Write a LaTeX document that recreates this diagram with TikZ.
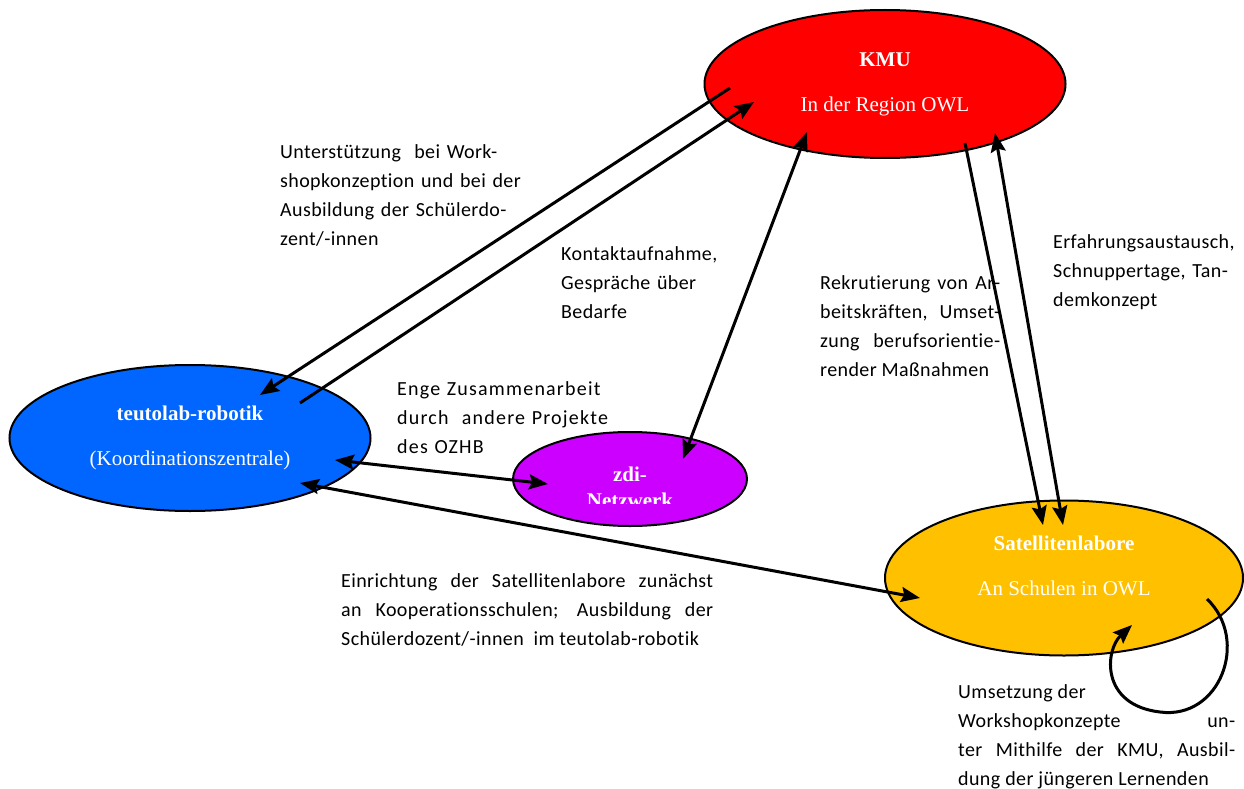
\documentclass[tikz,border=0pt]{standalone}
\usepackage{fontspec}
\setmainfont{Liberation Serif}
\newfontfamily\notefont[LetterSpace=2, Ligatures=NoCommon]{Carlito}
\usepackage{tikz}
\usetikzlibrary{shapes.geometric, arrows.meta, positioning, calc}
\definecolor{kmured}{RGB}{255, 0, 0}
\definecolor{teutoblue}{RGB}{0, 102, 255}
\definecolor{zdipurple}{RGB}{204, 0, 255}
\definecolor{labyellow}{RGB}{255, 192, 0}

\begin{document}
\begin{tikzpicture}[
    x=1pt, y=-1pt,
    blob/.style={ellipse, draw=black, line width=2pt, inner sep=0pt, text=white, align=center, font=\fontsize{21}{45}\selectfont},
    note/.style={anchor=base west, inner sep=0pt, font=\notefont\fontsize{20}{29}\selectfont},
    arrow/.style={-{Stealth[length=19pt, width=15pt, inset=3pt]}, line width=3pt},
    both/.style={arrow, {Stealth[length=19pt, width=15pt, inset=3pt]}-{Stealth[length=19pt, width=15pt, inset=3pt]}}
]
\useasboundingbox (0,0) rectangle (1244,789);

% Ellipses
\node[blob, fill=kmured, minimum width=361pt, minimum height=148pt] (kmu) at (885,84) {\textbf{KMU}\\In der Region OWL};
\node[blob, fill=teutoblue, minimum width=361pt, minimum height=146pt] (teuto) at (190,438) {\textbf{teutolab-robotik}\\(Koordinationszentrale)};
\node[blob, fill=zdipurple, minimum width=234pt, minimum height=94pt] (zdi) at (630,479) {};
\node[blob, fill=labyellow, minimum width=358pt, minimum height=155pt] (sat) at (1064,578) {\textbf{Satellitenlabore}\\An Schulen in OWL\\[-20pt]};

% zdi text, cut off at the bottom
\begin{scope}
  \clip (513,430) rectangle (747,503);
  \node[text=white, align=center, inner sep=0pt, font=\bfseries\fontsize{21}{26}\selectfont] (zditext) at ($(zdi)+(0,8)$) {zdi-\\Netzwerk};
\end{scope}

% Arrow ends
\coordinate (kmu-a) at ($(kmu)+(-155,4)$);
\coordinate (kmu-b) at ($(kmu)+(-131,18)$);
\coordinate (kmu-c) at ($(kmu)+(-78,48)$);
\coordinate (kmu-d) at ($(kmu)+(80,59)$);
\coordinate (kmu-e) at ($(kmu)+(110,49)$);
\coordinate (teuto-a) at ($(teuto)+(70,-43)$);
\coordinate (teuto-b) at ($(teuto)+(110,-35)$);
\coordinate (teuto-c) at ($(teuto)+(145,22)$);
\coordinate (teuto-d) at ($(teuto)+(110,45)$);
\coordinate (zdi-a) at ($(zdi)+(53,-20)$);
\coordinate (zdi-b) at ($(zdi)+(-82,5)$);
\coordinate (sat-a) at ($(sat)+(-21,-53)$);
\coordinate (sat-b) at ($(sat)+(-1,-53)$);
\coordinate (sat-c) at ($(sat)+(-144,20)$);
\coordinate (sat-d) at ($(sat)+(143,21)$);
\coordinate (sat-e) at ($(sat)+(68,47)$);

% Arrows
\draw[arrow] (kmu-a) -- (teuto-a);
\draw[arrow] (teuto-b) -- (kmu-b);
\draw[both] (kmu-c) -- (zdi-a);
\draw[arrow] (kmu-d) -- (sat-a);
\draw[both] (kmu-e) -- (sat-b);
\draw[both] (teuto-c) -- (zdi-b);
\draw[both] (teuto-d) -- (sat-c);
\draw[arrow] (sat-d) .. controls (1250,640) and (1220,720) .. (1160,712)
  .. controls (1100,705) and (1105,650) .. (sat-e);

% Labels
\node[note, text width=245pt, align=left] (support) at (280,158) {Unterstützung \ bei Work-\\shopkonzeption und bei der\\Ausbildung der Schülerdo-\\zent/-innen};
\node[note, text width=170pt, align=left] (contact) at (561,260) {Kontaktaufnahme,\\Gespräche über\\Bedarfe};
\node[note, text width=180pt, align=justify] (recruit) at (820,289) {Rekrutierung von Ar-\linebreak beitskräften, Umset-\linebreak zung berufsorientie-\linebreak render Maßnahmen};
\node[note, text width=190pt, align=left] (exchange) at (1053,248) {Erfahrungsaustausch,\\Schnuppertage, Tan-\\demkonzept};
\node[note, text width=230pt, align=left] (projects) at (397,395) {\addfontfeature{LetterSpace=6}Enge Zusammenarbeit\\durch \ andere Projekte\\des OZHB};
\node[note, text width=372pt, align=justify] (setup) at (341,587) {Einrichtung der Satellitenlabore zunächst\linebreak an Kooperationsschulen; Ausbildung der\linebreak Schülerdozent/-innen \ im teutolab-robotik};
\node[note, text width=277pt, align=justify] (workshop) at (958,698) {Umsetzung der\\Workshopkonzepte\hfill un-\linebreak ter Mithilfe der KMU, Ausbil-\linebreak dung der jüngeren Lernenden};

\end{tikzpicture}
\end{document}
